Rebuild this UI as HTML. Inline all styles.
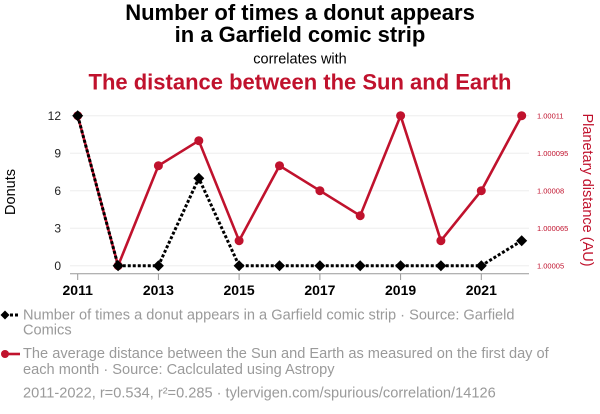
<!DOCTYPE html>
<html><head><meta charset="utf-8">
<style>
html,body{margin:0;padding:0;background:#fff;}
svg{display:block;font-family:"Liberation Sans",Arial,sans-serif;}
</style></head>
<body>
<svg width="600" height="414" viewBox="0 0 600 414" xmlns="http://www.w3.org/2000/svg">
<!-- titles -->
<text x="300" y="20" text-anchor="middle" font-size="22" font-weight="bold" fill="#000">Number of times a donut appears</text>
<text x="300" y="42" text-anchor="middle" font-size="22" font-weight="bold" fill="#000">in a Garfield comic strip</text>
<text x="300" y="63.5" text-anchor="middle" font-size="14.5" fill="#000">correlates with</text>
<text x="300" y="89.5" text-anchor="middle" font-size="22" font-weight="bold" fill="#c0122d">The distance between the Sun and Earth</text>

<!-- grid -->
<g stroke="#eeeeee" stroke-width="1">
<line x1="70" y1="115.7" x2="529" y2="115.7"/>
<line x1="70" y1="153.2" x2="529" y2="153.2"/>
<line x1="70" y1="190.7" x2="529" y2="190.7"/>
<line x1="70" y1="228.2" x2="529" y2="228.2"/>
<line x1="70" y1="265.7" x2="529" y2="265.7"/>
</g>
<!-- x axis -->
<line x1="70" y1="273.7" x2="529" y2="273.7" stroke="#999" stroke-width="1"/>
<g stroke="#999" stroke-width="1">
<line x1="77.7" y1="273.7" x2="77.7" y2="280"/>
<line x1="158.4" y1="273.7" x2="158.4" y2="280"/>
<line x1="239.1" y1="273.7" x2="239.1" y2="280"/>
<line x1="319.9" y1="273.7" x2="319.9" y2="280"/>
<line x1="400.6" y1="273.7" x2="400.6" y2="280"/>
<line x1="481.3" y1="273.7" x2="481.3" y2="280"/>
</g>
<g font-size="14" font-weight="bold" fill="#000" text-anchor="middle">
<text x="77.7" y="295">2011</text>
<text x="158.4" y="295">2013</text>
<text x="239.1" y="295">2015</text>
<text x="319.9" y="295">2017</text>
<text x="400.6" y="295">2019</text>
<text x="481.3" y="295">2021</text>
</g>
<!-- left y labels -->
<g font-size="12" fill="#222" text-anchor="end">
<text x="61" y="120">12</text>
<text x="61" y="157.5">9</text>
<text x="61" y="195">6</text>
<text x="61" y="232.5">3</text>
<text x="61" y="270">0</text>
</g>
<text transform="translate(15,192) rotate(-90)" text-anchor="middle" font-size="14.5" fill="#000">Donuts</text>
<!-- right y labels -->
<g font-size="7.5" fill="#c0122d">
<text x="537" y="118.5">1.00011</text>
<text x="537" y="156">1.000095</text>
<text x="537" y="193.5">1.00008</text>
<text x="537" y="231">1.000065</text>
<text x="537" y="268.5">1.00005</text>
</g>
<text transform="translate(583,190) rotate(90)" text-anchor="middle" font-size="14.5" fill="#c0122d">Planetary distance (AU)</text>

<!-- red series -->
<polyline fill="none" stroke="#c0122d" stroke-width="2.6" stroke-linejoin="round"
points="77.7,115.7 118.1,265.7 158.4,165.7 198.8,140.7 239.1,240.7 279.5,165.7 319.9,190.7 360.2,215.7 400.6,115.7 440.9,240.7 481.3,190.7 521.7,115.7"/>
<g fill="#c0122d">
<circle cx="77.7" cy="115.7" r="4.5"/>
<circle cx="118.1" cy="265.7" r="4.5"/>
<circle cx="158.4" cy="165.7" r="4.5"/>
<circle cx="198.8" cy="140.7" r="4.5"/>
<circle cx="239.1" cy="240.7" r="4.5"/>
<circle cx="279.5" cy="165.7" r="4.5"/>
<circle cx="319.9" cy="190.7" r="4.5"/>
<circle cx="360.2" cy="215.7" r="4.5"/>
<circle cx="400.6" cy="115.7" r="4.5"/>
<circle cx="440.9" cy="240.7" r="4.5"/>
<circle cx="481.3" cy="190.7" r="4.5"/>
<circle cx="521.7" cy="115.7" r="4.5"/>
</g>

<!-- black series -->
<polyline fill="none" stroke="#000" stroke-width="3" stroke-dasharray="3,2"
points="77.7,115.7 118.1,265.7 158.4,265.7 198.8,178.2 239.1,265.7 279.5,265.7 319.9,265.7 360.2,265.7 400.6,265.7 440.9,265.7 481.3,265.7 521.7,240.7"/>
<g fill="#000">
<path d="M77.7,110.2 l5.5,5.5 l-5.5,5.5 l-5.5,-5.5z"/>
<path d="M118.1,260.2 l5.5,5.5 l-5.5,5.5 l-5.5,-5.5z"/>
<path d="M158.4,260.2 l5.5,5.5 l-5.5,5.5 l-5.5,-5.5z"/>
<path d="M198.8,172.7 l5.5,5.5 l-5.5,5.5 l-5.5,-5.5z"/>
<path d="M239.1,260.2 l5.5,5.5 l-5.5,5.5 l-5.5,-5.5z"/>
<path d="M279.5,260.2 l5.5,5.5 l-5.5,5.5 l-5.5,-5.5z"/>
<path d="M319.9,260.2 l5.5,5.5 l-5.5,5.5 l-5.5,-5.5z"/>
<path d="M360.2,260.2 l5.5,5.5 l-5.5,5.5 l-5.5,-5.5z"/>
<path d="M400.6,260.2 l5.5,5.5 l-5.5,5.5 l-5.5,-5.5z"/>
<path d="M440.9,260.2 l5.5,5.5 l-5.5,5.5 l-5.5,-5.5z"/>
<path d="M481.3,260.2 l5.5,5.5 l-5.5,5.5 l-5.5,-5.5z"/>
<path d="M521.7,235.2 l5.5,5.5 l-5.5,5.5 l-5.5,-5.5z"/>
</g>

<!-- legend -->
<line x1="5" y1="315" x2="20" y2="315" stroke="#000" stroke-width="3" stroke-dasharray="3,2"/>
<path d="M5,310.5 l4.5,4.5 l-4.5,4.5 l-4.5,-4.5z" fill="#000"/>
<line x1="5" y1="354" x2="20" y2="354" stroke="#c0122d" stroke-width="2.6"/>
<circle cx="5" cy="354" r="4" fill="#c0122d"/>
<g font-size="14.6" fill="#9a9a9a">
<text x="23" y="319.3">Number of times a donut appears in a Garfield comic strip · Source: Garfield</text>
<text x="23" y="334.3">Comics</text>
<text x="23" y="358">The average distance between the Sun and Earth as measured on the first day of</text>
<text x="23" y="374">each month · Source: Caclculated using Astropy</text>
<text x="23" y="397.7">2011-2022, r=0.534, r²=0.285 · tylervigen.com/spurious/correlation/14126</text>
</g>
</svg>
</body></html>
